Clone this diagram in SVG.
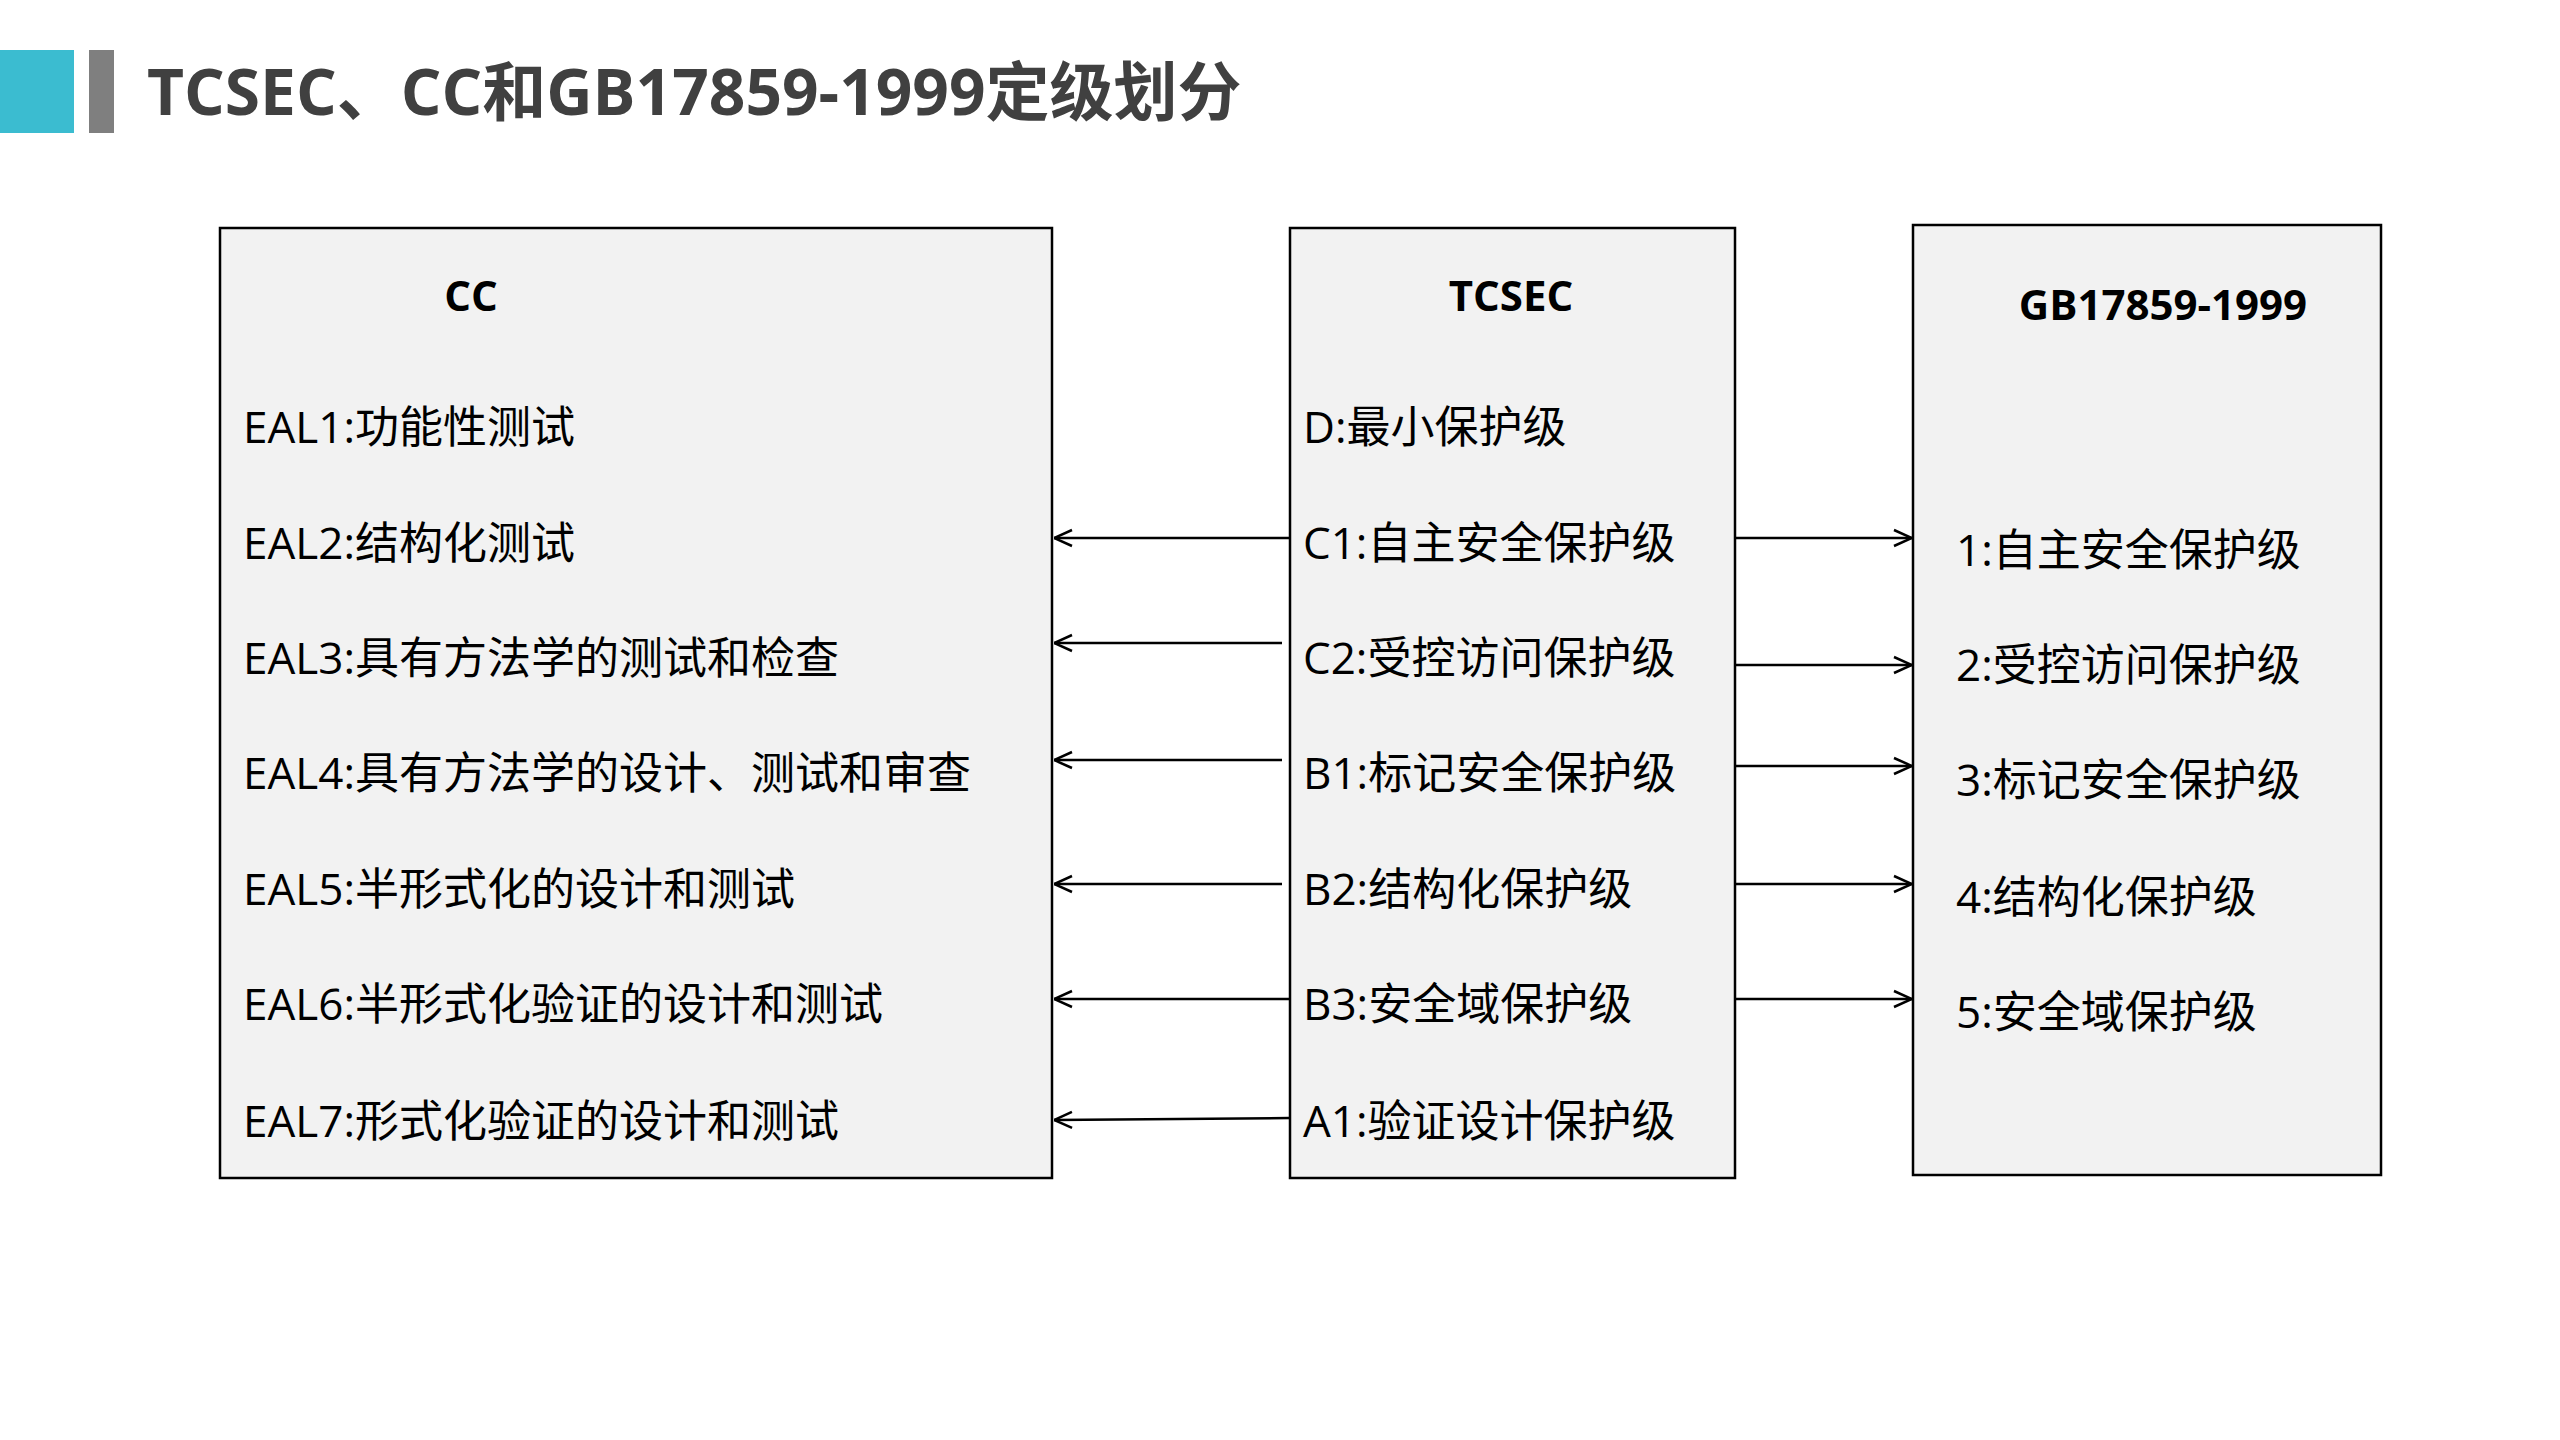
<svg xmlns="http://www.w3.org/2000/svg" width="2560" height="1440" viewBox="0 0 2560 1440">
<style>
.box{fill:#f2f2f2;stroke:#000;stroke-width:2.5}
.t{font-family:"Open Sans","Noto Sans CJK SC",sans-serif;font-size:44px;fill:#000}
.h{font-family:"Open Sans","Noto Sans CJK SC",sans-serif;font-size:42px;font-weight:bold;fill:#000;text-anchor:middle}
.a{stroke:#000;stroke-width:2.5;fill:none;marker-end:url(#ar)}
</style>
<defs><marker id="ar" viewBox="0 0 20 20" refX="20" refY="10" markerWidth="20" markerHeight="20" markerUnits="userSpaceOnUse" orient="auto"><path d="M2 2 L20 10 L2 18" fill="none" stroke="#000" stroke-width="2.5"/></marker></defs>
<rect width="2560" height="1440" fill="#fff"/>
<g id="title">
<rect x="0" y="50" width="74" height="83" fill="#3bbcd0"/>
<rect x="89" y="50" width="25" height="83" fill="#7f7f7f"/>
<text x="147" y="115" style="font-family:'Open Sans','Noto Sans CJK SC',sans-serif;font-size:64px;font-weight:bold;fill:#404040">TCSEC、CC和GB17859-1999定级划分</text>
</g>
<g id="cc">
<rect class="box" x="220" y="228" width="832" height="950"/>
<text class="h" x="471" y="311">CC</text>
<text class="t" x="243" y="443">EAL1:功能性测试</text>
<text class="t" x="243" y="559">EAL2:结构化测试</text>
<text class="t" x="243" y="674">EAL3:具有方法学的测试和检查</text>
<text class="t" x="243" y="789">EAL4:具有方法学的设计、测试和审查</text>
<text class="t" x="243" y="905">EAL5:半形式化的设计和测试</text>
<text class="t" x="243" y="1020">EAL6:半形式化验证的设计和测试</text>
<text class="t" x="243" y="1137">EAL7:形式化验证的设计和测试</text>
</g>
<g id="tcsec">
<rect class="box" x="1290" y="228" width="445" height="950"/>
<text class="h" x="1511" y="311">TCSEC</text>
<text class="t" x="1303" y="443">D:最小保护级</text>
<text class="t" x="1303" y="559">C1:自主安全保护级</text>
<text class="t" x="1303" y="674">C2:受控访问保护级</text>
<text class="t" x="1303" y="789">B1:标记安全保护级</text>
<text class="t" x="1303" y="905">B2:结构化保护级</text>
<text class="t" x="1303" y="1020">B3:安全域保护级</text>
<text class="t" x="1303" y="1137">A1:验证设计保护级</text>
</g>
<g id="gb">
<rect class="box" x="1913" y="225" width="468" height="950"/>
<text class="h" x="2163" y="320">GB17859-1999</text>
<text class="t" x="1956" y="566">1:自主安全保护级</text>
<text class="t" x="1956" y="681">2:受控访问保护级</text>
<text class="t" x="1956" y="796">3:标记安全保护级</text>
<text class="t" x="1956" y="913">4:结构化保护级</text>
<text class="t" x="1956" y="1028">5:安全域保护级</text>
</g>
<g id="connectors">
<line class="a" x1="1290" y1="538" x2="1054" y2="538"/>
<line class="a" x1="1282" y1="643" x2="1054" y2="643"/>
<line class="a" x1="1282" y1="760" x2="1054" y2="760"/>
<line class="a" x1="1282" y1="884" x2="1054" y2="884"/>
<line class="a" x1="1290" y1="999" x2="1054" y2="999"/>
<line class="a" x1="1290" y1="1118" x2="1054" y2="1120"/>
<line class="a" x1="1736" y1="538" x2="1912" y2="538"/>
<line class="a" x1="1736" y1="665" x2="1912" y2="665"/>
<line class="a" x1="1736" y1="766" x2="1912" y2="766"/>
<line class="a" x1="1736" y1="884" x2="1912" y2="884"/>
<line class="a" x1="1736" y1="999" x2="1912" y2="999"/>
</g>
</svg>
